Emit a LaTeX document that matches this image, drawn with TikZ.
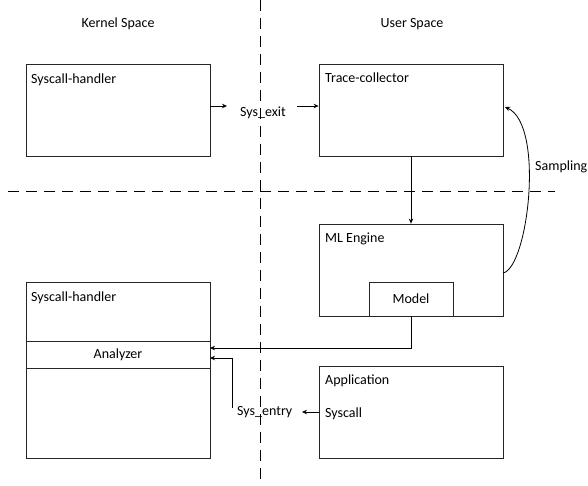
\documentclass[tikz,border=0pt]{standalone}
\usepackage{fontspec}
\setmainfont{Carlito}
\usetikzlibrary{arrows.meta}
\begin{document}
\begin{tikzpicture}[x=1pt,y=-1pt,
  box/.style={draw=black!85,line width=0.8pt,rectangle,inner sep=0pt},
  lbl/.style={inner sep=0pt,font=\fontsize{14}{17}\selectfont},
  arr/.style={draw=black,line width=0.8pt,-{Stealth[length=5pt,width=4.5pt]}},
  sep/.style={draw=black,line width=0.8pt,dash pattern=on 11pt off 7pt}]
\useasboundingbox (0,0) rectangle (588,485);
% separators
\coordinate (vt) at (260,0); \coordinate (vb) at (260,485);
\coordinate (hl) at (8,191); \coordinate (hr) at (555,191);
\draw[sep] (vt) -- (vb);
\draw[sep] (hl) -- (hr);
% headings
\node[lbl,anchor=base] (ks) at (118,27) {Kernel Space};
\node[lbl,anchor=base] (us) at (412,27) {User Space};
% boxes
\node[box,minimum width=184pt,minimum height=92pt] (sh1) at (118,110) {};
\node[box,minimum width=184pt,minimum height=92pt] (tc) at (411,110) {};
\node[box,minimum width=184pt,minimum height=92pt] (ml) at (411,270) {};
\node[box,fill=white,minimum width=84pt,minimum height=34pt,font=\fontsize{14}{17}\selectfont] (model) at (411,299) {Model};
\node[box,minimum width=184pt,minimum height=92pt] (app) at (411,412) {};
\node[box,minimum width=184pt,minimum height=176pt] (sh2) at (118,370) {};
\node[box,minimum width=184pt,minimum height=27pt,font=\fontsize{14}{17}\selectfont] (an) at (118,354.5) {Analyzer};
% box titles
\node[lbl,anchor=base west] (t1) at (31,83) {Syscall-handler};
\node[lbl,anchor=base west] (t2) at (325,82) {Trace-collector};
\node[lbl,anchor=base west] (t3) at (325,242) {ML Engine};
\node[lbl,anchor=base west] (t4) at (325,384) {Application};
\node[lbl,anchor=base west] (t5) at (325,417) {Syscall};
\node[lbl,anchor=base west] (t6) at (31,301) {Syscall-handler};
% connector labels
\node[lbl,anchor=base west] (sysexit) at (240,116) {Sys\_exit};
\node[lbl,anchor=base west] (sysentry) at (237,415) {Sys\_entry};
\node[lbl,anchor=base west] (samp) at (535,170) {Sampling};
% connectors
\coordinate (se1) at (227,106);
\coordinate (se2) at (297,106);
\draw[arr] (sh1.east |- se1) -- (se1);
\draw[arr] (se2) -- (tc.west |- se2);
\draw[arr] (tc.south) -- (ml.north);
\coordinate (a1) at (210,348);
\draw[arr] (model.south) |- (a1);
\coordinate (a2) at (210,358);
\coordinate (ev) at (232,408);
\draw[arr] (ev) |- (a2);
\coordinate (sc) at (302,412);
\draw[arr] (app.west |- sc) -- (sc);
\coordinate (ms) at (503,273);
\coordinate (te) at (505,107);
\draw[arr] (ms) .. controls (528,268) and (545,125) .. (te);
\end{tikzpicture}
\end{document}
